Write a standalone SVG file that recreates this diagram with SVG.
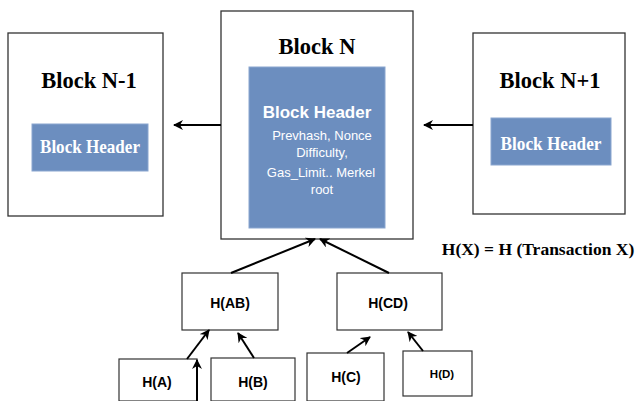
<svg xmlns="http://www.w3.org/2000/svg" width="635" height="401" viewBox="0 0 635 401">
<defs>
<marker id="ah" viewBox="0 0 10 10" refX="9" refY="5" markerWidth="10" markerHeight="10" markerUnits="userSpaceOnUse" orient="auto">
<path d="M0,0 L10,5 L0,10 L3,5 Z" fill="#000"/>
</marker>
<style>
.blk{fill:#fff;stroke:#333;stroke-width:1.3}
.hdr{fill:#6c8ebf;stroke:#8aa6cf;stroke-width:1}
.ttl{font-family:"Liberation Serif",serif;font-weight:bold;font-size:22.5px;fill:#000;text-anchor:middle}
.hs{font-family:"Liberation Serif",serif;font-weight:bold;font-size:19px;fill:#fff;text-anchor:middle}
.hn{font-family:"Liberation Sans",Arial,sans-serif;font-weight:bold;font-size:17px;fill:#fff;text-anchor:middle}
.ht{font-family:"Liberation Sans",Arial,sans-serif;font-size:13px;fill:#fff;text-anchor:middle}
.nd{fill:#fff;stroke:#333;stroke-width:1.2}
.nt{font-family:"Liberation Sans",Arial,sans-serif;font-weight:bold;font-size:14px;fill:#000;text-anchor:middle}
.cn{stroke:#000;stroke-width:2;fill:none;marker-end:url(#ah)}
</style>
</defs>
<rect width="635" height="401" fill="#fff"/>
<g id="blockN-1">
<rect class="blk" x="8" y="33" width="155" height="183"/>
<text class="ttl" x="89" y="88">Block N-1</text>
<rect class="hdr" x="32" y="124" width="116" height="47"/>
<text class="hs" x="90" y="153" textLength="100" lengthAdjust="spacingAndGlyphs">Block Header</text>
</g>
<g id="blockN">
<rect class="blk" x="221" y="11" width="192" height="228"/>
<text class="ttl" x="317" y="54">Block N</text>
<rect class="hdr" x="249" y="67" width="136" height="161"/>
<text class="hn" x="317" y="118">Block Header</text>
<text class="ht" x="322" y="140">Prevhash, Nonce</text>
<text class="ht" x="322" y="157">Difficulty,</text>
<text class="ht" x="321" y="177">Gas_Limit.. Merkel</text>
<text class="ht" x="322" y="194">root</text>
</g>
<g id="blockN+1">
<rect class="blk" x="473" y="33" width="152" height="181"/>
<text class="ttl" x="550" y="88">Block N+1</text>
<rect class="hdr" x="491" y="118" width="120" height="47"/>
<text class="hs" x="551" y="150" textLength="101" lengthAdjust="spacingAndGlyphs">Block Header</text>
</g>
<g id="legend">
<text x="538" y="255" style="font-family:'Liberation Serif',serif;font-weight:bold;font-size:17.5px;fill:#000;text-anchor:middle">H(X) = H (Transaction X)</text>
</g>
<g id="hAB">
<rect class="nd" x="182" y="273" width="96" height="57"/>
<text class="nt" x="230" y="308">H(AB)</text>
</g>
<g id="hCD">
<rect class="nd" x="337" y="273" width="105" height="57"/>
<text class="nt" x="388" y="308">H(CD)</text>
</g>
<g id="hA">
<rect class="nd" x="119" y="359" width="78" height="42"/>
<text class="nt" x="157" y="387">H(A)</text>
</g>
<g id="hB">
<rect class="nd" x="211" y="358" width="84" height="43"/>
<text class="nt" x="253" y="387">H(B)</text>
</g>
<g id="hC">
<rect class="nd" x="307" y="353" width="77" height="48"/>
<text class="nt" x="346" y="382">H(C)</text>
</g>
<g id="hD">
<rect class="nd" x="403" y="351" width="69" height="45"/>
<text class="nt" x="442" y="378" style="font-size:11.5px">H(D)</text>
</g>
<g id="connectors">
<line class="cn" x1="221" y1="125" x2="174" y2="125"/>
<line class="cn" x1="473" y1="125" x2="424" y2="125"/>
<line class="cn" x1="231" y1="273" x2="315" y2="239"/>
<line class="cn" x1="389" y1="273" x2="320" y2="239"/>
<line class="cn" x1="187" y1="359" x2="209" y2="330"/>
<line class="cn" x1="197" y1="401" x2="197" y2="360"/>
<line class="cn" x1="254" y1="358" x2="238" y2="333"/>
<line class="cn" x1="347" y1="353" x2="370" y2="337"/>
<line class="cn" x1="423" y1="351" x2="408" y2="332"/>
</g>
</svg>
